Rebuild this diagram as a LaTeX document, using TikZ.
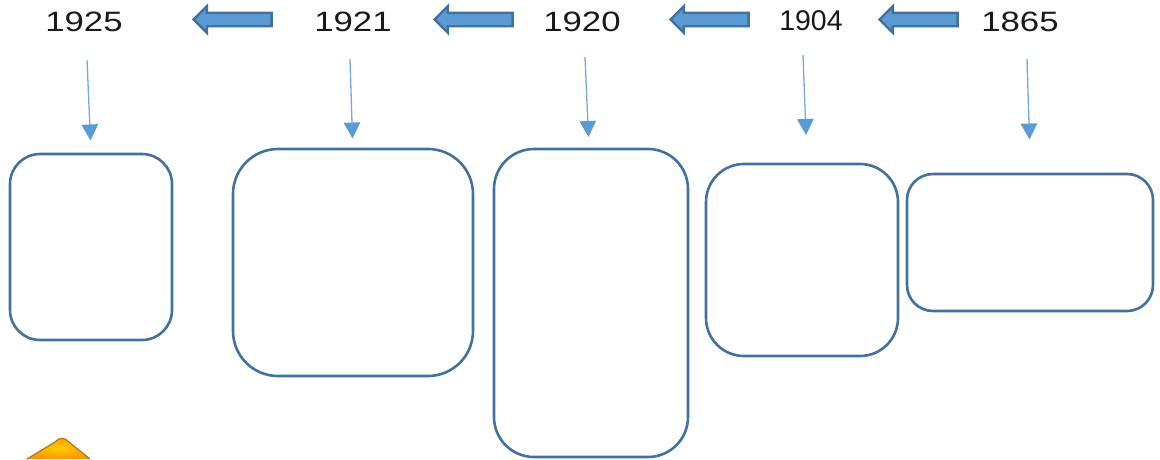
\documentclass[tikz,border=0pt]{standalone}
\usepackage{fontspec}
\setmainfont{Liberation Sans}
\usetikzlibrary{positioning, arrows.meta, shapes.arrows}
\definecolor{boxline}{HTML}{41719C}
\definecolor{arrowfill}{HTML}{5B9BD5}
\definecolor{goldedge}{HTML}{A8791E}
\newcommand{\wideyear}[1]{\scalebox{1.24}[1]{\fontsize{28}{28}\selectfont #1}}
\tikzset{%
  yearbox/.style={draw=boxline, line width=2.6pt, anchor=north west, inner sep=0pt, outer sep=0pt},
  yearlabel/.style={text=black!90, inner sep=0pt},
  blockarrow/.style={shape=single arrow, draw=boxline, fill=arrowfill, line width=2.4pt, shape border rotate=180,
    minimum height=78pt, minimum width=24pt, single arrow head extend=6.5pt, inner xsep=0pt, inner ysep=5.5pt, outer sep=0pt},
  droparrow/.style={draw=arrowfill!85!white, line width=1.3pt, -{Triangle[width=16.5pt,length=16pt,color=arrowfill]}}
}
\begin{document}
\begin{tikzpicture}[x=1pt, y=-1pt]
\useasboundingbox (0,0) rectangle (1160,459);

\node[yearbox, minimum width=162pt, minimum height=186pt, rounded corners=30pt] (b1925) at (10,154) {};
\node[yearbox, minimum width=240pt, minimum height=227pt, rounded corners=45pt] (b1921) at (233,149) {};
\node[yearbox, minimum width=194pt, minimum height=308pt, rounded corners=40pt] (b1920) at (494,149) {};
\node[yearbox, minimum width=192pt, minimum height=192pt, rounded corners=38pt] (b1904) at (706,164) {};
\node[yearbox, minimum width=246pt, minimum height=137pt, rounded corners=26pt] (b1865) at (907,174) {};

\node[yearlabel] (y1925) at (84,22) {\wideyear{1925}};
\node[yearlabel] (y1921) at (353,22) {\wideyear{1921}};
\node[yearlabel] (y1920) at (582,22) {\wideyear{1920}};
\node[yearlabel, font=\fontsize{28.5}{28.5}\selectfont] (y1904) at (811,21) {1904};
\node[yearlabel] (y1865) at (1020,22) {\wideyear{1865}};

\node[blockarrow] (a1) at (236,19.5) {};
\node[blockarrow] (a2) at (477,19.5) {};
\node[blockarrow] (a3) at (713,19.5) {};
\node[blockarrow] (a4) at (922,19.5) {};

\coordinate (s1925) at (87,60);
\coordinate (t1925) at (90.5,140.5);
\coordinate (s1921) at (350,59);
\coordinate (t1921) at (352.5,138.5);
\coordinate (s1920) at (585,57);
\coordinate (t1920) at (588.5,137);
\coordinate (s1904) at (803,55);
\coordinate (t1904) at (806,135);
\coordinate (s1865) at (1027,59);
\coordinate (t1865) at (1029.5,139.5);

\foreach \yr in {1925,1921,1920,1904,1865}
  \draw[droparrow] (s\yr) -- (t\yr);

\draw[inner color=yellow!60!orange, outer color=orange!80!yellow, draw=goldedge, line width=1.2pt]
  (27,459) -- (55,442) .. controls (59,437) and (65,437) .. (69,442) -- (90,459);
\end{tikzpicture}
\end{document}
